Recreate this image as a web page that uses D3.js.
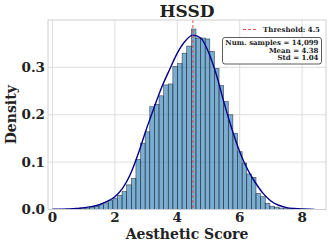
<!DOCTYPE html>
<html>
<head>
<meta charset="utf-8">
<script src="https://cdn.jsdelivr.net/npm/d3@7"></script>
<style>
  body { margin: 0; background: #fff; }
  text { font-family: "DejaVu Serif", serif; font-weight: bold; fill: #222; }
</style>
</head>
<body>
<div class="canvas"></div>
<script>
// histogram bins (left edge of first bin, bin width) and densities
const binStart = 0.602;
const binWidth = 0.148;
const density = [
  0.001, 0.001, 0.002, 0.003, 0.005, 0.007, 0.010, 0.014, 0.019, 0.024,
  0.030, 0.038, 0.052, 0.066, 0.106, 0.140, 0.164, 0.217, 0.222, 0.240,
  0.263, 0.265, 0.302, 0.308, 0.330, 0.345, 0.381, 0.362, 0.362, 0.360,
  0.334, 0.298, 0.262, 0.228, 0.200, 0.161, 0.122, 0.098, 0.075, 0.068,
  0.034, 0.027, 0.013, 0.007, 0.005, 0.003, 0.002, 0.001, 0.0008, 0.0005,
  0.0004
];

// kde curve
const kdeX = [0, 0.25, 0.5, 0.75, 1, 1.25, 1.5, 1.75, 2, 2.25, 2.5, 2.75, 3, 3.25,
  3.5, 3.75, 4, 4.25, 4.5, 4.75, 5, 5.25, 5.5, 5.75, 6, 6.25, 6.5, 6.75, 7,
  7.25, 7.5, 7.75, 8, 8.25, 8.4];
const kdeY = [0.0005, 0.0008, 0.0012, 0.002, 0.004, 0.006, 0.010, 0.017, 0.027,
  0.045, 0.075, 0.118, 0.168, 0.214, 0.258, 0.295, 0.330, 0.355, 0.368, 0.362,
  0.332, 0.285, 0.225, 0.170, 0.122, 0.085, 0.057, 0.034, 0.018, 0.009, 0.004,
  0.002, 0.001, 0.0005, 0.0003];

const xTicks = [0, 2, 4, 6, 8];
const yTicks = [0.0, 0.1, 0.2, 0.3];
const threshold = 4.5;
const statLines = ['Num. samples = 14,099', 'Mean = 4.38', 'Std = 1.04'];

const dims = { width: 332, height: 246 };
const plot = { left: 48, right: 326, top: 20, bottom: 209.5 };

const svg = d3.select('.canvas')
  .append('svg')
  .attr('width', dims.width)
  .attr('height', dims.height);

const x = d3.scaleLinear().domain([-0.144, 8.766]).range([plot.left, plot.right]);
const y = d3.scaleLinear().domain([0, 0.4]).range([plot.bottom, plot.top]);

// grid
const grid = svg.append('g');
grid.selectAll('.vg').data(xTicks).enter().append('line')
  .attr('x1', d => x(d)).attr('x2', d => x(d))
  .attr('y1', plot.top).attr('y2', plot.bottom)
  .attr('stroke', '#dedede').attr('stroke-width', 1);
grid.selectAll('.hg').data(yTicks).enter().append('line')
  .attr('x1', plot.left).attr('x2', plot.right)
  .attr('y1', d => y(d)).attr('y2', d => y(d))
  .attr('stroke', '#dedede').attr('stroke-width', 1);

// bars
const bins = density.map((d, i) => ({ x0: binStart + i * binWidth, x1: binStart + (i + 1) * binWidth, v: d }));
svg.append('g').selectAll('rect').data(bins).enter().append('rect')
  .attr('x', d => x(d.x0))
  .attr('width', d => x(d.x1) - x(d.x0))
  .attr('y', d => y(d.v))
  .attr('height', d => y(0) - y(d.v))
  .attr('fill', '#1f77b4').attr('fill-opacity', 0.6)
  .attr('stroke', '#1a1a1a').attr('stroke-opacity', 0.75).attr('stroke-width', 0.6);

// kde
const kde = kdeX.map((d, i) => [d, kdeY[i]]);
svg.append('path')
  .datum(kde)
  .attr('fill', 'none')
  .attr('stroke', '#00008b')
  .attr('stroke-width', 1.4)
  .attr('d', d3.line().x(d => x(d[0])).y(d => y(d[1])).curve(d3.curveMonotoneX));

// threshold
svg.append('line')
  .attr('x1', x(threshold)).attr('x2', x(threshold))
  .attr('y1', plot.top).attr('y2', plot.bottom)
  .attr('stroke', '#e8383d').attr('stroke-width', 0.9)
  .attr('stroke-dasharray', '3,2');

// frame
svg.append('rect')
  .attr('x', plot.left).attr('y', plot.top)
  .attr('width', plot.right - plot.left).attr('height', plot.bottom - plot.top)
  .attr('fill', 'none').attr('stroke', '#d0d0d0').attr('stroke-width', 1);

// tick labels
svg.selectAll('.xt').data(xTicks).enter().append('text')
  .attr('x', d => x(d)).attr('y', 222)
  .attr('text-anchor', 'middle').attr('font-size', 13.5)
  .text(d => d);
svg.selectAll('.yt').data(yTicks).enter().append('text')
  .attr('x', 45).attr('y', d => y(d) + 4.7)
  .attr('text-anchor', 'end').attr('font-size', 13.5)
  .text(d => d.toFixed(1));

// titles
svg.append('text').attr('x', 187).attr('y', 17)
  .attr('text-anchor', 'middle').attr('font-size', 17).text('HSSD');
svg.append('text').attr('x', 187).attr('y', 239)
  .attr('text-anchor', 'middle').attr('font-size', 14).text('Aesthetic Score');
svg.append('text')
  .attr('transform', `translate(15.5, ${(plot.top + plot.bottom) / 2}) rotate(-90)`)
  .attr('text-anchor', 'middle').attr('font-size', 14).text('Density');

// legend
svg.append('line')
  .attr('x1', 243).attr('x2', 256).attr('y1', 29.5).attr('y2', 29.5)
  .attr('stroke', '#e8383d').attr('stroke-width', 0.9).attr('stroke-dasharray', '3,2');
svg.append('text').attr('x', 320).attr('y', 32)
  .attr('text-anchor', 'end').attr('font-size', 7).text('Threshold: 4.5');

// stats box
svg.append('rect')
  .attr('x', 222.5).attr('y', 37.5).attr('width', 99).attr('height', 26.5)
  .attr('rx', 2.5).attr('fill', '#fff').attr('stroke', '#333').attr('stroke-width', 0.8);
svg.selectAll('.st').data(statLines).enter().append('text')
  .attr('x', 318.5).attr('y', (d, i) => 45 + i * 7.5)
  .attr('text-anchor', 'end').attr('font-size', 7)
  .text(d => d);
</script>
</body>
</html>
